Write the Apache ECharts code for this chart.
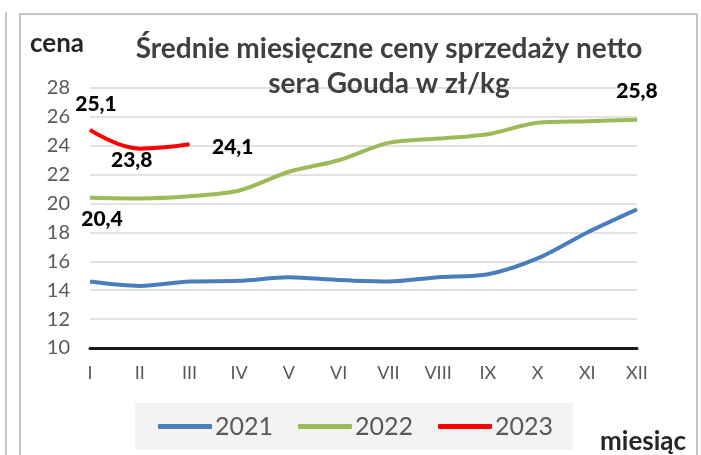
<!DOCTYPE html>
<html>
<head>
<meta charset="utf-8">
<script src="https://cdn.jsdelivr.net/npm/echarts@6/dist/echarts.min.js"></script>
<style>
  html, body { margin: 0; padding: 0; background: #fff; }
  #main { width: 701px; height: 455px; }
</style>
</head>
<body>
<div id="main"></div>
<script>
// miesiące
const months = ['I', 'II', 'III', 'IV', 'V', 'VI', 'VII', 'VIII', 'IX', 'X', 'XI', 'XII'];
// ceny sera Gouda, zł/kg
const y2021 = [14.6, 14.3, 14.6, 14.65, 14.9, 14.7, 14.6, 14.9, 15.1, 16.2, 18.0, 19.6];
const y2022 = [20.4, 20.35, 20.5, 20.9, 22.2, 23.0, 24.2, 24.5, 24.8, 25.6, 25.7, 25.8];
const y2023 = [25.1, 23.8, 24.1];

const font = 'Lato, "Open Sans", sans-serif';

function fmt(v) {
  return String(v).replace('.', ',');
}

// etykieta danych przy wybranym punkcie
function lbl(value, position, offset) {
  return {
    value: value,
    label: {
      show: true,
      position: position,
      offset: offset,
      formatter: function (p) { return fmt(p.value); },
      color: '#000',
      fontFamily: font,
      fontWeight: 900,
      fontSize: 21
    }
  };
}

let d2022 = y2022.map(function (v) { return v; });
d2022[0] = lbl(y2022[0], 'bottom', [12, 5]);
d2022[11] = lbl(y2022[11], 'top', [0, -13]);

let d2023 = [
  lbl(y2023[0], 'top', [6, -10]),
  lbl(y2023[1], 'bottom', [-8, -4]),
  lbl(y2023[2], 'right', [17, 3])
];

let myChart = echarts.init(document.getElementById('main'));
myChart.setOption({
  backgroundColor: '#fff',
  animation: false,
  title: {
    text: 'Średnie miesięczne ceny sprzedaży netto\nsera Gouda w zł/kg',
    left: 384,
    top: 26,
    textAlign: 'center',
    textStyle: {
      fontFamily: font,
      fontWeight: 'bold',
      fontSize: 28,
      lineHeight: 35,
      color: '#404040'
    }
  },
  graphic: [
    { type: 'line', shape: { x1: 6, y1: 12, x2: 6, y2: 455 }, style: { stroke: '#c8c8c8', lineWidth: 2 } },
    { type: 'rect', shape: { x: 20, y: 14, width: 677, height: 470 }, style: { fill: null, stroke: '#c4c4c4', lineWidth: 2 } },
    { type: 'text', left: 30, top: 31, style: { text: 'cena', font: 'bold 26px ' + font, fill: '#262626' } },
    { type: 'text', left: 600, top: 429, style: { text: 'miesiąc', font: 'bold 26px ' + font, fill: '#262626' } }
  ],
  legend: {
    left: 135,
    top: 403,
    padding: [11, 20, 11, 23],
    itemGap: 25,
    itemWidth: 54,
    itemHeight: 5,
    icon: 'roundRect',
    backgroundColor: '#f3f3f3',
    textStyle: { fontFamily: font, fontSize: 25, color: '#595959', padding: [0, 0, 0, -2] },
    data: ['2021', '2022', '2023']
  },
  grid: {
    left: 90,
    right: 64,
    top: 88,
    bottom: 107
  },
  xAxis: {
    type: 'category',
    data: months,
    boundaryGap: false,
    axisLine: { lineStyle: { color: '#1a1a1a', width: 3 } },
    axisTick: { show: false },
    axisLabel: { color: '#595959', fontFamily: font, fontSize: 18, margin: 16 }
  },
  yAxis: {
    type: 'value',
    min: 10,
    max: 28,
    interval: 2,
    axisLine: { show: false },
    axisTick: { show: false },
    axisLabel: { color: '#595959', fontFamily: font, fontSize: 20, margin: 20 },
    splitLine: { lineStyle: { color: '#d9d9d9', width: 1.5 } }
  },
  series: [
    {
      name: '2021',
      type: 'line',
      data: y2021,
      smooth: 0.3,
      symbol: 'none',
      lineStyle: { color: '#4a7ebb', width: 4 },
      itemStyle: { color: '#4a7ebb' }
    },
    {
      name: '2022',
      type: 'line',
      data: d2022,
      smooth: 0.3,
      symbol: 'circle',
      symbolSize: 1,
      showSymbol: true,
      lineStyle: { color: '#9bbb59', width: 4 },
      itemStyle: { color: '#9bbb59' }
    },
    {
      name: '2023',
      type: 'line',
      data: d2023,
      smooth: 0.4,
      symbol: 'circle',
      symbolSize: 1,
      showSymbol: true,
      lineStyle: { color: '#ff0000', width: 4 },
      itemStyle: { color: '#ff0000' }
    }
  ]
});
</script>
</body>
</html>
